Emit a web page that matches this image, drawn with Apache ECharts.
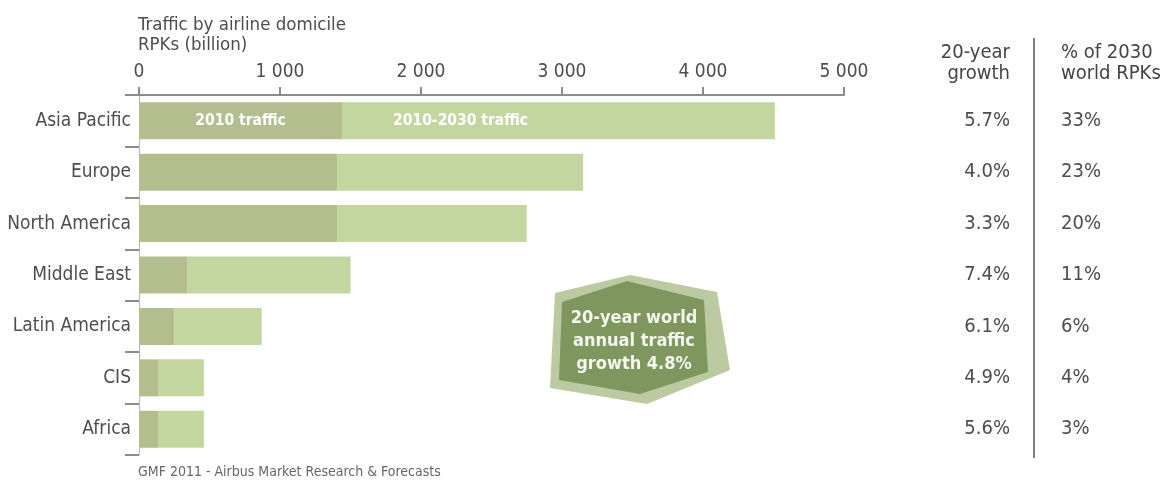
<!DOCTYPE html>
<html>
<head>
<meta charset="utf-8">
<script src="https://cdn.jsdelivr.net/npm/echarts@6/dist/echarts.min.js"></script>
<style>
  html, body { margin: 0; padding: 0; background: #fff; }
  #chart { width: 1172px; height: 488px; }
</style>
</head>
<body>
<div id="chart"></div>
<script>
// Traffic by airline domicile, RPKs (billion)
const regions = ['Asia Pacific', 'Europe', 'North America', 'Middle East', 'Latin America', 'CIS', 'Africa'];
const traffic2010 = [1440, 1405, 1405, 340, 250, 135, 135];
const traffic2030 = [4510, 3150, 2750, 1500, 870, 460, 460];
const growth20y = ['5.7%', '4.0%', '3.3%', '7.4%', '6.1%', '4.9%', '5.6%'];
const share2030 = ['33%', '23%', '20%', '11%', '6%', '4%', '3%'];

const FONT = "'DejaVu Sans Condensed', 'Liberation Sans', sans-serif";
const TEXT = '#4d4d4d';
const DARK = '#b4bd8e';
const LIGHT = '#c4d6a0';

const growthPart = traffic2030.map((v, i) => v - traffic2010[i]);

const chart = echarts.init(document.getElementById('chart'), null, { renderer: 'canvas' });

chart.setOption({
  backgroundColor: '#fff',
  animation: false,
  grid: { left: 139, right: 328, top: 95, bottom: 33, containLabel: false, outerBoundsMode: 'none' },
  xAxis: {
    type: 'value', position: 'top', min: 0, max: 5000, interval: 1000,
    axisLine: { show: true, lineStyle: { color: '#8c8c8c', width: 2 } },
    axisTick: { show: true, length: 8, lineStyle: { color: '#8c8c8c', width: 2 } },
    axisLabel: {
      color: TEXT, fontFamily: FONT, fontSize: 19, margin: 13,
      formatter: v => v >= 1000 ? Math.floor(v / 1000) + ' ' + String(v % 1000).padStart(3, '0') : String(v)
    },
    splitLine: { show: false },
  },
  yAxis: [
    {
      type: 'category', data: regions, inverse: true,
      axisLine: { show: true, lineStyle: { color: '#b5b5b5', width: 1 } },
      axisTick: { show: true, length: 14, lineStyle: { color: '#8c8c8c', width: 2 } },
      axisLabel: { color: TEXT, fontFamily: FONT, fontSize: 19, margin: 8 },
    },
    {
      type: 'category', data: growth20y, inverse: true, position: 'right',
      axisLine: { show: false }, axisTick: { show: false },
      axisLabel: { color: TEXT, fontFamily: FONT, fontSize: 20, align: 'right', margin: 166 },
    },
    {
      type: 'category', data: share2030, inverse: true, position: 'right',
      axisLine: { show: false }, axisTick: { show: false },
      axisLabel: { color: TEXT, fontFamily: FONT, fontSize: 20, align: 'left', margin: 217 },
    },
  ],
  series: [
    {
      name: '2010 traffic', type: 'bar', stack: 'rpk', barWidth: 37,
      itemStyle: { color: DARK },
      data: traffic2010.map((v, i) => i === 0
        ? { value: v, label: { show: true, position: 'inside', formatter: '2010 traffic', color: '#fff', fontFamily: FONT, fontSize: 15.5, fontWeight: 'bold' } }
        : v),
    },
    {
      name: '2010-2030 traffic', type: 'bar', stack: 'rpk', barWidth: 37,
      itemStyle: { color: LIGHT },
      data: growthPart.map((v, i) => i === 0
        ? { value: v, label: { show: true, position: 'insideLeft', distance: 51, formatter: '2010-2030 traffic', color: '#fff', fontFamily: FONT, fontSize: 15.5, fontWeight: 'bold' } }
        : v),
    },
  ],
  graphic: [
    { type: 'text', left: 138, top: 15, style: { text: 'Traffic by airline domicile\nRPKs (billion)', fill: TEXT, font: '18.5px ' + FONT, lineHeight: 20 } },
    { type: 'text', x: 1010, y: 42, style: { text: '20-year\ngrowth', fill: '#444', font: '20px ' + FONT, textAlign: 'right', lineHeight: 21 } },
    { type: 'text', x: 1061, y: 42, style: { text: '% of 2030\nworld RPKs', fill: '#444', font: '20px ' + FONT, textAlign: 'left', lineHeight: 21 } },
    { type: 'line', shape: { x1: 1034, y1: 38, x2: 1034, y2: 458 }, style: { stroke: '#555', lineWidth: 1.5 } },
    { type: 'text', left: 138, top: 465, style: { text: 'GMF 2011 - Airbus Market Research & Forecasts', fill: '#666', font: '14px ' + FONT } },
    // hexagonal badge
    { type: 'polygon', shape: { points: [[555, 293], [630, 275], [717, 292], [730, 370], [647, 404], [550, 388]] }, style: { fill: '#bccaa1' } },
    { type: 'polygon', shape: { points: [[562, 302], [627, 281], [704, 300], [708, 372], [640, 394], [559, 380]] }, style: { fill: '#7f975f' } },
    { type: 'text', x: 634, y: 341, style: { text: '20-year world\nannual traffic\ngrowth 4.8%', fill: '#f4f7ec', font: 'bold 18px ' + FONT, textAlign: 'center', textVerticalAlign: 'middle', lineHeight: 23 } },
  ],
});
</script>
</body>
</html>
